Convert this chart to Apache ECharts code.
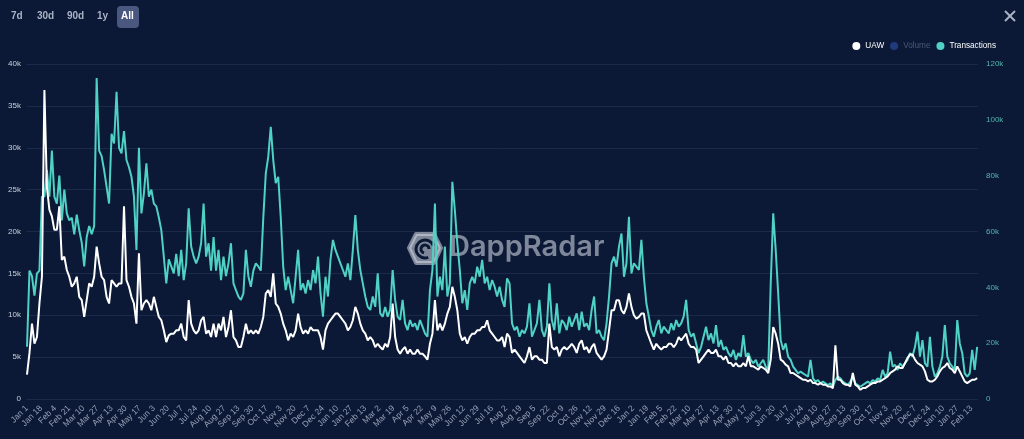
<!DOCTYPE html>
<html>
<head>
<meta charset="utf-8">
<title>UAW / Transactions</title>
<script src="https://cdn.jsdelivr.net/npm/echarts@6/dist/echarts.min.js"></script>
<style>
  html, body { margin: 0; padding: 0; background: #0b1936; }
  #chart { width: 1024px; height: 439px; }
</style>
</head>
<body>
<div id="chart"></div>
<script>
// one category per day, Jan 1 2022 .. Feb 22 2025
const firstDay = Date.UTC(2022, 0, 1);
const dayCount = 1148;
const monthNames = ['Jan', 'Feb', 'Mar', 'Apr', 'May', 'Jun', 'Jul', 'Aug', 'Sep', 'Oct', 'Nov', 'Dec'];
const days = [];
for (let i = 0; i < dayCount; i++) {
    days.push(new Date(firstDay + i * 86400000).toISOString().slice(0, 10));
}

// values every 3rd day, in thousands
const step = 3;
const uaw = [
    2.9, 5.5, 9.0, 6.6, 7.4, 11.4, 14.6, 36.9, 25.3, 22.6,
    21.8, 20.2, 20.2, 23, 16.6, 17, 15.4, 14.6, 13.4, 13.8,
    14.6, 12.2, 11.8, 9.8, 11.8, 13.8, 13.4, 14.6, 18.2, 16.2,
    14.6, 14.2, 12.2, 11.4, 14.2, 13.8, 13.4, 13.8, 13.8, 23,
    14.2, 13.4, 12.2, 11.4, 9.0, 17.4, 10.6, 11.4, 11.8, 11.4,
    10.6, 12.2, 11, 9.8, 9.4, 8.2, 6.8, 7.6, 7.8, 7.8,
    8.2, 8.2, 9.0, 7.4, 7.0, 11.8, 9.0, 8.2, 7.8, 8.2,
    9.4, 9.8, 7.8, 8.2, 7.4, 9.0, 7.4, 9.0, 8.2, 9.8,
    7.4, 8.6, 10.6, 7.4, 7.0, 6.2, 6.2, 7.4, 9.0, 7.8,
    8.2, 7.8, 8.2, 7.8, 8.6, 9.8, 12.6, 13.0, 12.2, 15.0,
    11.4, 11.0, 10.2, 9.0, 8.2, 7.0, 7.8, 7.4, 8.2, 10.2,
    8.6, 7.8, 8.2, 7.8, 8.6, 8.2, 8.2, 8.2, 7.4, 5.9,
    8.2, 9.0, 9.4, 9.8, 10.2, 10.2, 9.8, 9.4, 9.0, 8.2,
    8.6, 9.4, 11.0, 10.2, 9.0, 8.2, 7.8, 7.0, 7.4, 7.0,
    6.2, 6.6, 6.2, 5.9, 6.6, 6.2, 7.4, 11.4, 7.4, 5.9,
    5.4, 5.9, 6.2, 5.4, 5.9, 5.4, 5.4, 5.9, 5.4, 5.4,
    5.1, 4.7, 6.6, 7.8, 11.8, 8.2, 9.0, 8.2, 9.0, 10.2,
    11.0, 13.4, 12.2, 10.6, 7.8, 7.0, 7.4, 6.6, 7.4, 7.8,
    7.8, 8.2, 8.2, 8.6, 8.6, 9.4, 8.2, 7.8, 7.4, 7.0,
    7.0, 7.4, 6.2, 7.8, 7.4, 5.5, 5.9, 5.5, 5.1, 4.7,
    4.3, 5.1, 6.2, 4.7, 5.1, 5.1, 4.7, 4.7, 4.3, 4.3,
    9.0, 6.2, 5.9, 6.2, 5.1, 5.9, 6.2, 5.9, 6.2, 6.6,
    6.2, 5.5, 6.6, 7.0, 5.9, 6.2, 5.5, 6.2, 6.6, 5.5,
    5.1, 4.7, 5.1, 5.9, 8.2, 10.6, 10.6, 11.8, 11.8, 10.6,
    10.2, 11.0, 12.6, 11.0, 10.0, 9.6, 9.8, 10.2, 10.2, 8.2,
    7.4, 6.6, 5.9, 6.6, 6.2, 5.9, 6.2, 6.2, 6.6, 6.6,
    6.2, 6.6, 7.4, 7.0, 7.4, 7.8, 6.6, 6.2, 6.2, 5.9,
    4.3, 4.7, 5.1, 5.5, 5.9, 5.5, 5.5, 5.9, 5.1, 5.1,
    4.7, 5.1, 4.3, 4.3, 3.9, 4.3, 3.9, 3.9, 4.3, 3.9,
    5.1, 3.9, 3.9, 3.7, 3.5, 3.9, 3.7, 3.5, 3.1, 4.7,
    8.6, 7.8, 6.6, 4.7, 4.5, 4.1, 3.9, 3.1, 3.1, 2.9,
    2.7, 2.5, 2.3, 2.3, 2.1, 2.3, 1.9, 1.9, 1.7, 1.9,
    1.7, 1.7, 1.5, 1.5, 1.3, 6.4, 2.3, 2.3, 1.9, 1.7,
    1.7, 1.5, 3.1, 1.7, 1.5, 1.1, 1.3, 1.3, 1.5, 1.7,
    1.9, 1.9, 2.1, 2.1, 2.3, 2.5, 2.7, 3.1, 3.3, 3.5,
    3.9, 3.7, 3.7, 4.3, 4.9, 5.3, 5.3, 4.7, 4.3, 4.1,
    3.9, 3.3, 2.3, 2.1, 2.1, 2.3, 2.7, 3.3, 3.7, 3.9,
    4.3, 3.7, 3.5, 3.1, 3.9, 3.3, 2.7, 2.1, 1.9, 2.1,
    2.3, 2.3, 2.5
];
const transactions = [
    18.7, 46, 44, 37, 45, 46, 72.5, 72.5, 82, 72.5,
    89, 72.5, 70, 80, 64, 75, 66.5, 64, 65, 59,
    66, 60.5, 56, 47.5, 58, 62, 59, 62, 115, 89,
    87, 82, 76, 70, 95, 91.5, 110, 90, 88, 96,
    85.6, 83, 79.6, 72.5, 53.4, 90, 66.5, 73.7, 84.4, 72.5,
    75, 70, 69, 65, 60.5, 51, 41.4, 50, 47.5, 45,
    52, 44, 53.4, 42.6, 48.6, 68.3, 54.6, 51, 48.6, 51,
    55.8, 70, 51, 55.8, 46, 58, 46, 53.4, 42.6, 51,
    44, 48.6, 55.8, 41.4, 39, 36.7, 35.5, 37.8, 53.4, 44,
    40.2, 46, 48.6, 47.5, 46, 65, 80.8, 86.8, 97.5, 85.6,
    77.3, 79.6, 65.3, 47.4, 39, 43.8, 39, 34.3, 43.8, 53.4,
    39, 41.4, 37.8, 42.6, 39, 46.2, 41.4, 51, 37.8, 29.5,
    43.8, 36.7, 49.8, 57, 53.4, 51, 48.6, 46.2, 43.8, 48.6,
    42.6, 53.4, 65.9, 53.4, 46.2, 41.4, 36.7, 33, 31.9, 36.7,
    33, 45, 30.7, 29.5, 33, 29.5, 31.9, 46.2, 35.5, 29.5,
    28.3, 35.5, 27.1, 24.7, 28.3, 25.9, 27.1, 24.7, 28.3, 25.9,
    23.5, 22.3, 39, 46.2, 70, 36.7, 43.8, 39, 54.6, 36.7,
    41.4, 77.8, 67.7, 55.8, 46.2, 34.3, 39, 31.9, 41.4, 43.8,
    41.4, 47.4, 43.8, 49.8, 41.4, 43.8, 39, 42.6, 40.2, 36.7,
    40.2, 35.5, 33, 43.2, 41.4, 27.1, 24.7, 25.9, 22.3, 24.7,
    23.5, 25.9, 34.3, 22.3, 24.7, 27.1, 35.5, 24.7, 22.3, 25.9,
    41.4, 28.3, 24.7, 34.3, 23.5, 28.3, 27.1, 24.7, 29.5, 25.9,
    28.3, 30.7, 24.7, 31.3, 25.9, 27.1, 24.7, 31.9, 36.7, 23.5,
    24.7, 22.3, 21.1, 27.1, 36.7, 48.6, 51, 47.4, 54.6, 59.3,
    43.8, 48.6, 65.3, 45, 48.6, 47.4, 46.2, 57, 43.8, 34.3,
    29.5, 24.7, 22.3, 25.9, 28.3, 23.5, 25.9, 24.7, 23.5, 27.1,
    24.7, 28.3, 25.9, 27.1, 29.5, 35.5, 24.7, 22.3, 23.5, 19.9,
    16.4, 18.7, 22.3, 25.9, 21.1, 23.5, 19.9, 26.5, 18.7, 21.1,
    17.6, 18.7, 16.4, 15.2, 17.6, 14, 16.4, 15.2, 22.9, 15.2,
    16.4, 14, 12.8, 14, 11.6, 12.8, 14, 11.6, 10.4, 41.4,
    66.5, 53.4, 37.8, 21.1, 17.6, 19.9, 15.2, 14, 11.6, 10.4,
    9.2, 9.8, 9.2, 8.6, 8, 14, 7.4, 6.2, 6.8, 5.6,
    6.2, 5.6, 5, 5.6, 4.4, 6.8, 8, 7.4, 6.2, 5.6,
    5, 6.2, 8, 5.6, 5, 4.4, 5, 5.6, 6.2, 5.6,
    6.8, 6.2, 7.4, 6.8, 10.4, 8, 9.2, 17, 11.6, 12.2,
    10.4, 12.8, 11.6, 12.8, 14, 16.4, 15.2, 18.7, 24.1, 15.2,
    21.1, 12.8, 11.6, 22.3, 11.6, 8, 9.2, 11.6, 15.2, 26.5,
    15.2, 12.8, 11.6, 10.4, 28.3, 19.9, 16.4, 9.2, 8, 9.2,
    17.6, 10.4, 18.7
];
const volume = [];   // switched off in the legend, nothing drawn

const leftTicks = {min: 0, max: 40, interval: 5};
const rightTicks = {min: 0, max: 120, interval: 20};

const toPoints = arr => arr.map((v, i) => [i * step, v]);
const kLabel = v => v === 0 ? '0' : v + 'k';
const font = '"Liberation Sans", Arial, sans-serif';

let chart = echarts.init(document.getElementById('chart'));

let option = {
    backgroundColor: '#0b1936',
    animation: false,
    grid: {left: 27, right: 46, top: 64, bottom: 40, outerBoundsMode: 'none'},
    legend: {
        right: 23,
        top: 37,
        icon: 'circle',
        itemWidth: 8,
        itemHeight: 8,
        itemGap: 6,
        textStyle: {color: '#ffffff', fontSize: 8.2, fontFamily: font},
        data: [
            {name: 'UAW'},
            {name: 'Volume', textStyle: {color: '#4a5877'}},
            {name: 'Transactions'}
        ]
    },
    xAxis: {
        type: 'category',
        data: days,
        boundaryGap: false,
        axisLine: {show: false},
        axisTick: {show: false},
        axisLabel: {
            interval: 16,
            rotate: 45,
            margin: 8,
            color: '#98a1b5',
            fontSize: 8.5,
            fontFamily: font,
            formatter: s => {
                const d = new Date(s + 'T00:00:00Z');
                return monthNames[d.getUTCMonth()] + ' ' + d.getUTCDate();
            }
        }
    },
    yAxis: [
        {
            type: 'value',
            min: leftTicks.min,
            max: leftTicks.max,
            interval: leftTicks.interval,
            axisLabel: {color: '#c9cfdb', fontSize: 8, margin: 6, fontFamily: font, formatter: kLabel},
            splitLine: {lineStyle: {color: '#1b2a4b', width: 1}}
        },
        {
            type: 'value',
            min: rightTicks.min,
            max: rightTicks.max,
            interval: rightTicks.interval,
            axisLabel: {color: '#52b7ad', fontSize: 8, margin: 8, fontFamily: font, formatter: kLabel},
            splitLine: {show: false}
        }
    ],
    series: [
        {
            name: 'Transactions',
            type: 'line',
            yAxisIndex: 1,
            data: toPoints(transactions),
            showSymbol: false,
            color: '#4fd1c4',
            lineStyle: {width: 2}
        },
        {
            name: 'Volume',
            type: 'line',
            yAxisIndex: 1,
            data: volume,
            showSymbol: false,
            color: '#1f3a7d'
        },
        {
            name: 'UAW',
            type: 'line',
            yAxisIndex: 0,
            data: toPoints(uaw),
            showSymbol: false,
            color: '#ffffff',
            lineStyle: {width: 2},
            z: 3
        }
    ],
    graphic: [
        // range buttons
        {type: 'text', left: 11, top: 11, style: {text: '7d', fill: '#aab3c6', font: 'bold 10px ' + font}},
        {type: 'text', left: 37, top: 11, style: {text: '30d', fill: '#aab3c6', font: 'bold 10px ' + font}},
        {type: 'text', left: 67, top: 11, style: {text: '90d', fill: '#aab3c6', font: 'bold 10px ' + font}},
        {type: 'text', left: 97, top: 11, style: {text: '1y', fill: '#aab3c6', font: 'bold 10px ' + font}},
        {type: 'rect', left: 117, top: 6, shape: {width: 22, height: 22, r: 4}, style: {fill: '#4a5880'}},
        {type: 'text', left: 121, top: 11, style: {text: 'All', fill: '#ffffff', font: 'bold 10px ' + font}},
        // close cross
        {type: 'line', shape: {x1: 1005, y1: 11, x2: 1015, y2: 21}, style: {stroke: '#aab3c6', lineWidth: 2}},
        {type: 'line', shape: {x1: 1015, y1: 11, x2: 1005, y2: 21}, style: {stroke: '#aab3c6', lineWidth: 2}},
        // watermark
        {
            type: 'group',
            left: 407,
            top: 232,
            z: 1,
            children: [
                {
                    type: 'polygon',
                    shape: {points: [[2, 16], [9, 2], [27, 2], [34, 16], [27, 31], [9, 31]]},
                    style: {fill: 'rgba(205,210,222,0.6)', stroke: 'rgba(205,210,222,0.6)', lineWidth: 4, lineJoin: 'round'}
                },
                {type: 'arc', shape: {cx: 18, cy: 17, r: 9, startAngle: 1.2, endAngle: 5.9}, style: {stroke: '#0b1936', fill: 'none', lineWidth: 3}},
                {type: 'arc', shape: {cx: 18, cy: 17, r: 4, startAngle: 1.8, endAngle: 6.3}, style: {stroke: '#0b1936', fill: 'none', lineWidth: 3}},
                {type: 'text', x: 42, y: 1, style: {text: 'DappRadar', fill: 'rgba(205,210,222,0.6)', font: '600 29px Inter, "Liberation Sans", sans-serif'}}
            ]
        }
    ]
};

chart.setOption(option);
</script>
</body>
</html>
